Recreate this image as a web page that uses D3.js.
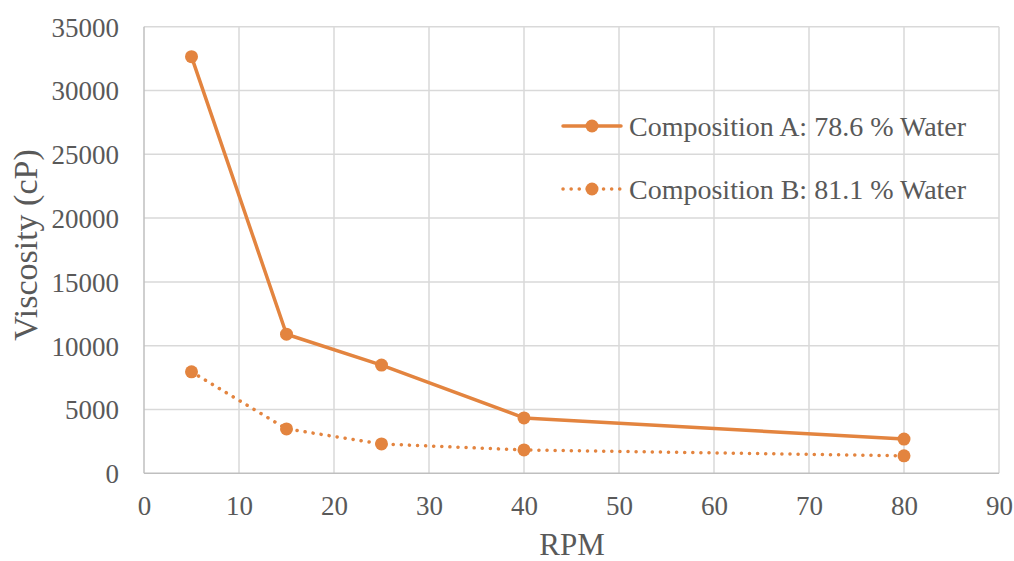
<!DOCTYPE html>
<html><head><meta charset="utf-8">
<script src="https://cdn.jsdelivr.net/npm/d3@7"></script>
<style>body{margin:0;background:#fff}svg{display:block}</style>
</head><body>
<script>
const rpm = [5, 15, 25, 40, 80];
const seriesA = [32650, 10900, 8480, 4340, 2680];
const seriesB = [7950, 3480, 2300, 1830, 1370];
const seriesNames = ["Composition A: 78.6 % Water", "Composition B: 81.1 % Water"];
const xTicks = [0,10,20,30,40,50,60,70,80,90];
const yTicks = [0,5000,10000,15000,20000,25000,30000,35000];

const W = 1014, H = 561;
const color = "#E3843F";
const textColor = "#595959";
const font = "'Times New Roman', 'Liberation Serif', Times, 'DejaVu Serif', serif";
const svg = d3.select("body").append("svg").attr("width", W).attr("height", H);
const x = d3.scaleLinear().domain([0, 90]).range([144, 999]);
const y = d3.scaleLinear().domain([0, 35000]).range([473.3, 26.7]);

// gridlines
svg.append("g").selectAll("line").data(xTicks.slice(1)).join("line")
  .attr("x1", d => x(d)).attr("x2", d => x(d)).attr("y1", y(0)).attr("y2", y(35000))
  .attr("stroke", "#d9d9d9").attr("stroke-width", 1.5);
svg.append("g").selectAll("line").data(yTicks.slice(1)).join("line")
  .attr("x1", x(0)).attr("x2", x(90)).attr("y1", d => y(d)).attr("y2", d => y(d))
  .attr("stroke", "#d9d9d9").attr("stroke-width", 1.5);
// axes lines
svg.append("line").attr("x1", x(0)).attr("x2", x(0)).attr("y1", y(0)).attr("y2", y(35000)).attr("stroke", "#bfbfbf").attr("stroke-width", 1.5);
svg.append("line").attr("x1", x(0)).attr("x2", x(90)).attr("y1", y(0)).attr("y2", y(0)).attr("stroke", "#bfbfbf").attr("stroke-width", 1.5);

// tick labels
const xAxis = d3.axisBottom(x).tickValues(xTicks).tickSize(0).tickPadding(0);
const gx = svg.append("g").attr("transform", `translate(0,${y(0)})`).call(xAxis);
gx.select(".domain").remove();
gx.selectAll("text").attr("dy", null).attr("y", 42).attr("font-family", font).attr("font-size", 27).attr("fill", textColor);
const yAxis = d3.axisLeft(y).tickValues(yTicks).tickSize(0).tickPadding(0).tickFormat(d3.format("d"));
const gy = svg.append("g").attr("transform", `translate(${x(0)},0)`).call(yAxis);
gy.select(".domain").remove();
gy.selectAll("text").attr("x", -25).attr("dy", "0.35em").attr("font-family", font).attr("font-size", 27).attr("fill", textColor);

// axis titles
svg.append("text").attr("x", 572).attr("y", 555).attr("text-anchor", "middle")
  .attr("font-family", font).attr("font-size", 31).attr("fill", textColor).text("RPM");
svg.append("text").attr("transform", "translate(37,245) rotate(-90)").attr("text-anchor", "middle")
  .attr("font-family", font).attr("font-size", 34).attr("fill", textColor).text("Viscosity (cP)");

const line = d3.line().x((d, i) => x(rpm[i])).y(d => y(d));
const series = [seriesA, seriesB];
const dashes = [null, "0.1 8"];
series.forEach((s, k) => {
  svg.append("path").datum(s).attr("d", line).attr("fill", "none").attr("stroke", color)
    .attr("stroke-width", 3.5).attr("stroke-linecap", "round").attr("stroke-linejoin", "round")
    .attr("stroke-dasharray", dashes[k]);
  svg.append("g").selectAll("circle").data(s).join("circle")
    .attr("cx", (d, i) => x(rpm[i])).attr("cy", d => y(d)).attr("r", 6.5).attr("fill", color);
});

// legend
const legY = [126, 189];
seriesNames.forEach((n, k) => {
  const g = svg.append("g");
  g.append("line").attr("x1", 563).attr("x2", 621).attr("y1", legY[k]).attr("y2", legY[k])
    .attr("stroke", color).attr("stroke-width", 3.5).attr("stroke-linecap", "round").attr("stroke-dasharray", dashes[k]);
  g.append("circle").attr("cx", 592).attr("cy", legY[k]).attr("r", 6.5).attr("fill", color);
  g.append("text").attr("x", 629).attr("y", legY[k]).attr("dy", "0.35em")
    .attr("font-family", font).attr("font-size", 28).attr("fill", textColor).text(n);
});
</script>
</body></html>
